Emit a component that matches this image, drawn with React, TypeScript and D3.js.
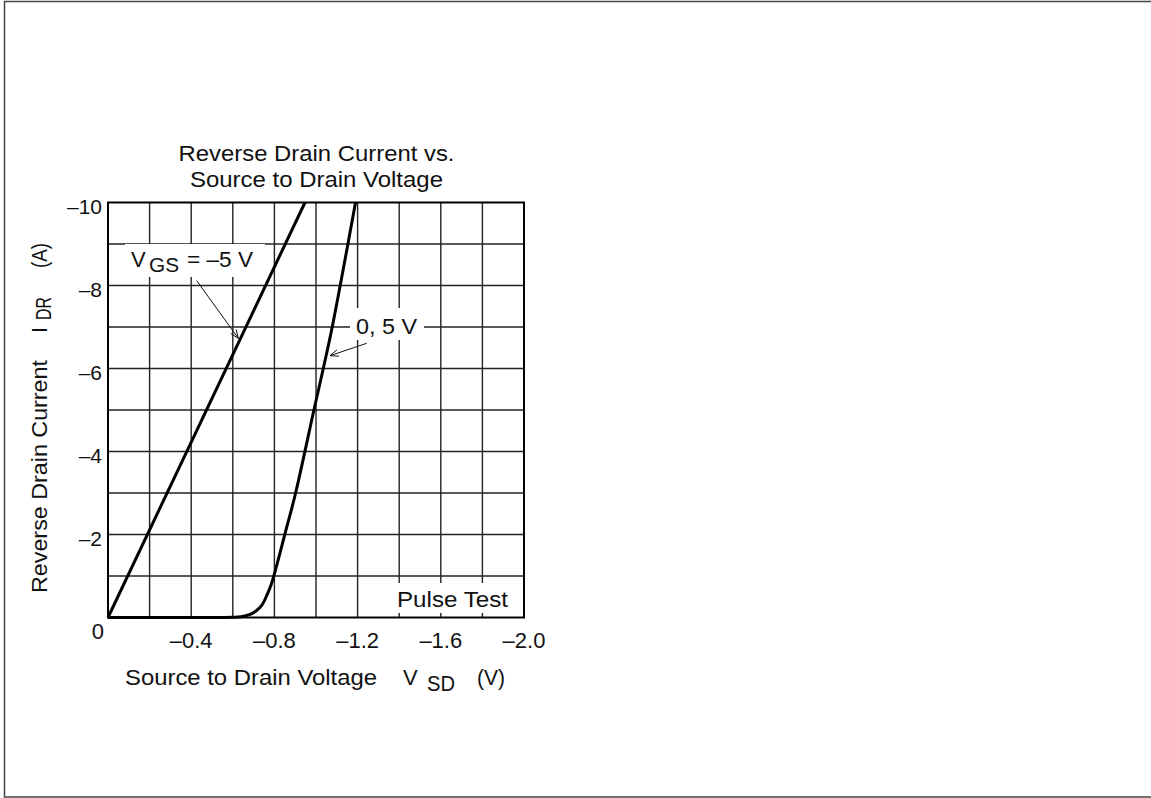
import React from "react";
import * as d3 from "d3";

// ---- data ----
const xTickValues = [-0.4, -0.8, -1.2, -1.6, -2.0];
const xTickLabels = ["\u20130.4", "\u20130.8", "\u20131.2", "\u20131.6", "\u20132.0"];
const yTickValues = [-2, -4, -6, -8, -10];
const yTickLabels = ["\u20132", "\u20134", "\u20136", "\u20138", "\u201310"];

// V_GS = -5 V curve
const vsdNeg5 = [0, -0.947];
const idrNeg5 = [0, -10];

// V_GS = 0, 5 V curve
const vsd05 = [0, -0.3, -0.56, -0.6, -0.64, -0.68, -0.71, -0.74, -0.765, -0.785, -0.8, -0.85, -0.902, -0.99, -1.035, -1.078, -1.19];
const idr05 = [0, 0, 0, -0.005, -0.02, -0.07, -0.15, -0.3, -0.55, -0.8, -1.05, -2, -3, -5, -6, -7, -10];

const W = 1151;
const H = 798;
const FONT = "'Liberation Sans', Arial, Helvetica, sans-serif";

export default function App() {
  const x = d3.scaleLinear().domain([0, -2]).range([108, 524]);
  const y = d3.scaleLinear().domain([0, -10]).range([617.5, 202.5]);

  const gridX = x.ticks(10).filter((v) => v !== 0 && v !== -2);
  const gridY = y.ticks(10).filter((v) => v !== 0 && v !== -10);

  const line = d3
    .line<[number, number]>()
    .x((d) => x(d[0]))
    .y((d) => y(d[1]));
  const curveLine = d3
    .line<[number, number]>()
    .x((d) => x(d[0]))
    .y((d) => y(d[1]))
    .curve(d3.curveCatmullRom.alpha(0.5));

  const ptsNeg5: [number, number][] = vsdNeg5.map((v, i) => [v, idrNeg5[i]]);
  const pts05: [number, number][] = vsd05.map((v, i) => [v, idr05[i]]);

  const arrowHead = (x1: number, y1: number, x2: number, y2: number, size = 9, spread = 0.38) => {
    const a = Math.atan2(y2 - y1, x2 - x1);
    const p1 = [x2 - size * Math.cos(a - spread), y2 - size * Math.sin(a - spread)];
    const p2 = [x2 - size * Math.cos(a + spread), y2 - size * Math.sin(a + spread)];
    return `M${p1[0]},${p1[1]}L${x2},${y2}L${p2[0]},${p2[1]}`;
  };

  const fs = 22;
  const adj = "spacingAndGlyphs";

  return (
    <svg
      width={W}
      height={H}
      style={{ position: "absolute", left: 0, top: 0, background: "#fff" }}
      fontFamily={FONT}
    >
      {/* outer frame */}
      <rect x={4.5} y={1.5} width={W + 10} height={H - 2.5} fill="none" stroke="#444" strokeWidth={1.5} />

      {/* title */}
      <text x={178.5} y={161} fontSize={fs} fill="#111" textLength={276} lengthAdjust={adj}>
        Reverse Drain Current vs.
      </text>
      <text x={190} y={187} fontSize={fs} fill="#111" textLength={253} lengthAdjust={adj}>
        Source to Drain Voltage
      </text>

      {/* grid */}
      <g stroke="#222" strokeWidth={1.4}>
        {gridX.map((v) => (
          <line key={"gx" + v} x1={x(v)} x2={x(v)} y1={y(0)} y2={y(-10)} />
        ))}
        {gridY.map((v) => (
          <line key={"gy" + v} x1={x(0)} x2={x(-2)} y1={y(v)} y2={y(v)} />
        ))}
      </g>

      {/* label backgrounds */}
      <rect x={125} y={244} width={140} height={33} fill="#fff" />
      <rect x={350} y={308} width={74} height={32} fill="#fff" />
      <rect x={393} y={583} width={119} height={30} fill="#fff" />

      {/* plot border */}
      <rect x={x(0)} y={y(-10)} width={x(-2) - x(0)} height={y(0) - y(-10)} fill="none" stroke="#000" strokeWidth={2} />

      {/* curves */}
      <path d={line(ptsNeg5) || ""} fill="none" stroke="#000" strokeWidth={3} />
      <path d={curveLine(pts05) || ""} fill="none" stroke="#000" strokeWidth={3} />

      {/* annotations */}
      <text y={267} fontSize={fs} fill="#111">
        <tspan x={131}>V</tspan>
        <tspan x={149} dy={5} fontSize={20} textLength={30} lengthAdjust={adj}>GS</tspan>
        <tspan x={187} dy={-5} textLength={66} lengthAdjust={adj}>= {"\u2013"}5 V</tspan>
      </text>
      <g stroke="#111" strokeWidth={1} fill="none">
        <line x1={196.7} y1={280.7} x2={238.3} y2={338.3} />
        <path d={arrowHead(196.7, 280.7, 238.3, 338.3)} />
        <line x1={366.7} y1={343.3} x2={330} y2={355.7} />
        <path d={arrowHead(366.7, 343.3, 330, 355.7)} />
      </g>
      <text x={356} y={334} fontSize={fs} fill="#111" textLength={61} lengthAdjust={adj}>
        0, 5 V
      </text>
      <text x={397} y={607} fontSize={fs} fill="#111" textLength={111} lengthAdjust={adj}>
        Pulse Test
      </text>

      {/* x tick labels */}
      {xTickValues.map((v, i) => (
        <text key={"xt" + i} x={x(v)} y={648} textAnchor="middle" fontSize={fs} fill="#111">
          {xTickLabels[i]}
        </text>
      ))}
      {/* y tick labels */}
      {yTickValues.map((v, i) => (
        <text key={"yt" + i} x={102} y={y(v) + 11} textAnchor="end" fontSize={21} fill="#111">
          {yTickLabels[i]}
        </text>
      ))}
      <text x={104} y={639} textAnchor="end" fontSize={fs} fill="#111">
        0
      </text>

      {/* x axis title */}
      <text y={685} fontSize={fs} fill="#111">
        <tspan x={125} textLength={252} lengthAdjust={adj}>Source to Drain Voltage</tspan>
        <tspan x={403}>V</tspan>
        <tspan x={427} dy={6} textLength={28} lengthAdjust={adj}>SD</tspan>
        <tspan x={477} dy={-6} textLength={28} lengthAdjust={adj}>(V)</tspan>
      </text>

      {/* y axis title */}
      <g transform="translate(47,0) rotate(-90)">
        <text y={0} fontSize={fs} fill="#111">
          <tspan x={-593} textLength={233} lengthAdjust={adj}>Reverse Drain Current</tspan>
          <tspan x={-333}>I</tspan>
          <tspan x={-320} dy={4} textLength={23} lengthAdjust={adj}>DR</tspan>
          <tspan x={-268} dy={-4} textLength={25} lengthAdjust={adj}>(A)</tspan>
        </text>
      </g>
    </svg>
  );
}
